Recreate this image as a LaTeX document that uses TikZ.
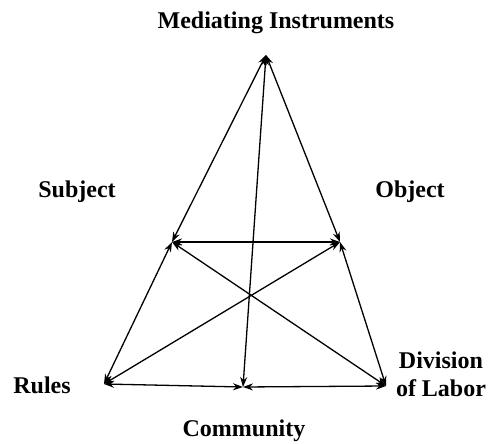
\documentclass[tikz,border=0pt]{standalone}
\usepackage{fontspec}
\setmainfont{Liberation Serif}
\usetikzlibrary{arrows.meta}
\begin{document}
\begin{tikzpicture}[x=1pt, y=-1pt,
    lbl/.style={font=\fontsize{24}{28}\selectfont\bfseries, align=center},
    link/.style={{Stealth[length=10pt,width=7pt]}-{Stealth[length=10pt,width=7pt]}, line width=1.3pt}]
    \useasboundingbox (0,0) rectangle (488,444);

    % Corners of the triangle
    \coordinate (tool) at (266,55);
    \coordinate (subj) at (172,242);
    \coordinate (obj) at (340,242);
    \coordinate (rules) at (104,384);
    \coordinate (comm) at (243,387);
    \coordinate (div) at (386,386);

    % Labels
    \node[lbl] (ltool) at (276,23) {Mediating Instruments};
    \node[lbl] (lsubj) at (77,192) {Subject};
    \node[lbl] (lobj) at (410,192) {Object};
    \node[lbl] (lrules) at (42,385) {Rules};
    \node[lbl] (ldiv) at (441,374) {Division\\of Labor};
    \node[lbl] (lcomm) at (244,431) {Community};

    % Upper triangle
    \draw[link] (tool) -- (subj);
    \draw[link] (tool) -- (obj);
    \draw[link] (subj) -- (obj);
    \draw[link] (tool) -- (comm);

    % Lower part
    \draw[link] (subj) -- (rules);
    \draw[link] (obj) -- (div);
    \draw[link] (subj) -- (div);
    \draw[link] (obj) -- (rules);
    \draw[link] (rules) -- (comm);
    \draw[link] (comm) -- (div);
\end{tikzpicture}
\end{document}
